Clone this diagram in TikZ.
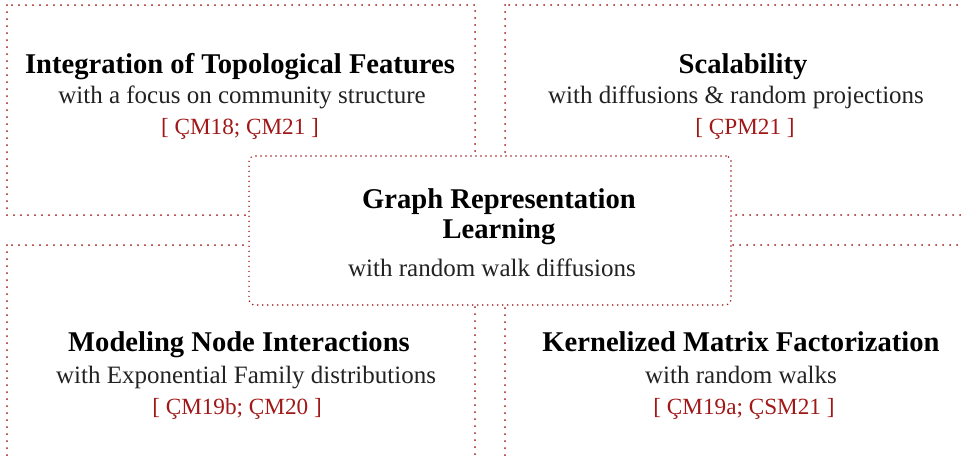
\documentclass[tikz,border=0pt]{standalone}
\usepackage{fontspec}
\setmainfont{Liberation Serif}
\usepackage{xcolor}
\usepackage{tikz}

\definecolor{citered}{RGB}{160,24,24}
\definecolor{subgray}{RGB}{34,34,34}

\begin{document}
\begin{tikzpicture}[x=0.5pt,y=-0.5pt,
  quadbox/.style={draw=citered,line width=1pt,line cap=round,dash pattern=on 0pt off 3.5pt},
  hubbox/.style={draw=citered,fill=white,line width=0.85pt,line cap=round,dash pattern=on 0pt off 2.5pt,rounded corners=2.5pt,inner sep=0pt},
  headline/.style={anchor=base,inner sep=0pt,font=\fontsize{14.3}{15}\selectfont\bfseries},
  subline/.style={anchor=base,inner sep=0pt,text=subgray,font=\fontsize{12.5}{13}\selectfont},
  citeline/.style={anchor=base,inner sep=0pt,text=citered,font=\fontsize{11.6}{13}\selectfont}]
  \useasboundingbox (0,0) rectangle (963,456);
  \clip (0,0) rectangle (963,456);
  % the four quadrants
  \draw[quadbox] (7,5) rectangle (475,215);
  \draw[quadbox] (505,5) rectangle (990,215);
  \draw[quadbox] (7,245) rectangle (475,490);
  \draw[quadbox] (505,245) rectangle (990,490);
  % centre box on top
  \node[hubbox,minimum width=241pt,minimum height=74.5pt] (grl) at (490,230.5) {};
  \node[headline] (grl-a) at (499,208) {Graph Representation};
  \node[headline] (grl-b) at (499,238) {Learning};
  \node[subline] (grl-sub) at (492,276) {with random walk diffusions};
  % top left
  \node[headline] (topo) at (240,73) {Integration of Topological Features};
  \node[subline] (topo-sub) at (242,103) {with a focus on community structure};
  \node[citeline] (topo-cite) at (240,134) {[ ÇM18; ÇM21 ]};
  % top right
  \node[headline] (scal) at (743,73) {Scalability};
  \node[subline] (scal-sub) at (736,103) {with diffusions \& random projections};
  \node[citeline] (scal-cite) at (745,134) {[ ÇPM21 ]};
  % bottom left
  \node[headline] (model) at (239,351) {Modeling Node Interactions};
  \node[subline] (model-sub) at (246,383) {with Exponential Family distributions};
  \node[citeline] (model-cite) at (237,414) {[ ÇM19b; ÇM20 ]};
  % bottom right
  \node[headline] (kern) at (741,351) {Kernelized Matrix Factorization};
  \node[subline] (kern-sub) at (741,383) {with random walks};
  \node[citeline] (kern-cite) at (744,414) {[ ÇM19a; ÇSM21 ]};
\end{tikzpicture}
\end{document}
